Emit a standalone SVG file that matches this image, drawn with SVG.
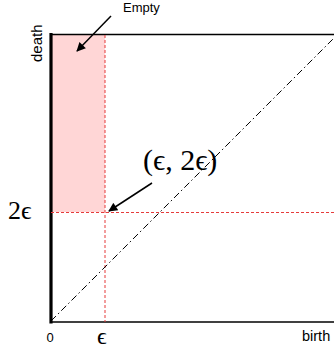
<svg xmlns="http://www.w3.org/2000/svg" width="334" height="352" viewBox="0 0 334 352">
<style>
.sans{font-family:"Liberation Sans",Arial,sans-serif;fill:#000}
.math{font-family:"Liberation Serif","DejaVu Serif",serif;fill:#000}
.red{stroke:#e53b3b;stroke-width:1;stroke-dasharray:3 2;fill:none}
.ax{stroke:#000;fill:none}
.arr{stroke:#000;stroke-width:1.5;fill:none}
</style>
<defs>
<marker id="ah" viewBox="0 0 10 10" refX="9" refY="5" markerWidth="7" markerHeight="6" orient="auto" markerUnits="strokeWidth">
<path d="M0,0 L10,5 L0,10 z" fill="#000"/>
</marker>
</defs>
<g id="empty-region">
<rect x="51" y="34.5" width="54" height="177.5" fill="#ffd6d6"/>
</g>
<g id="axes">
<line class="ax" x1="50" y1="34.5" x2="334" y2="34.5" stroke-width="1.3"/>
<line class="ax" x1="50" y1="322" x2="334" y2="322" stroke-width="1.3"/>
<line class="ax" x1="51" y1="33" x2="51" y2="323.5" stroke-width="3.2"/>
</g>
<g id="guides">
<line class="red" x1="105" y1="35" x2="105" y2="322" stroke-width="1.2"/>
<line class="red" x1="51" y1="212.5" x2="334" y2="212.5"/>
<line x1="51" y1="321" x2="334" y2="38" stroke="#000" stroke-width="1" stroke-dasharray="7 3 1.5 3" fill="none"/>
</g>
<g id="connectors">
<line class="arr" x1="111" y1="16" x2="77" y2="51" marker-end="url(#ah)"/>
<line class="arr" x1="152" y1="183" x2="109" y2="211" marker-end="url(#ah)"/>
</g>
<g id="labels">
<text class="sans" x="123" y="12" font-size="13">Empty</text>
<text class="sans" font-size="15" transform="translate(41.5,62) rotate(-90)">death</text>
<text class="sans" x="46.5" y="342" font-size="13">0</text>
<text class="sans" x="302" y="341" font-size="14.5">birth</text>
<text class="math" x="97" y="344" font-size="24">ϵ</text>
<text class="math" x="8" y="219" font-size="26">2ϵ</text>
<text class="math" x="143" y="170" font-size="30">(ϵ, 2ϵ)</text>
</g>
</svg>
